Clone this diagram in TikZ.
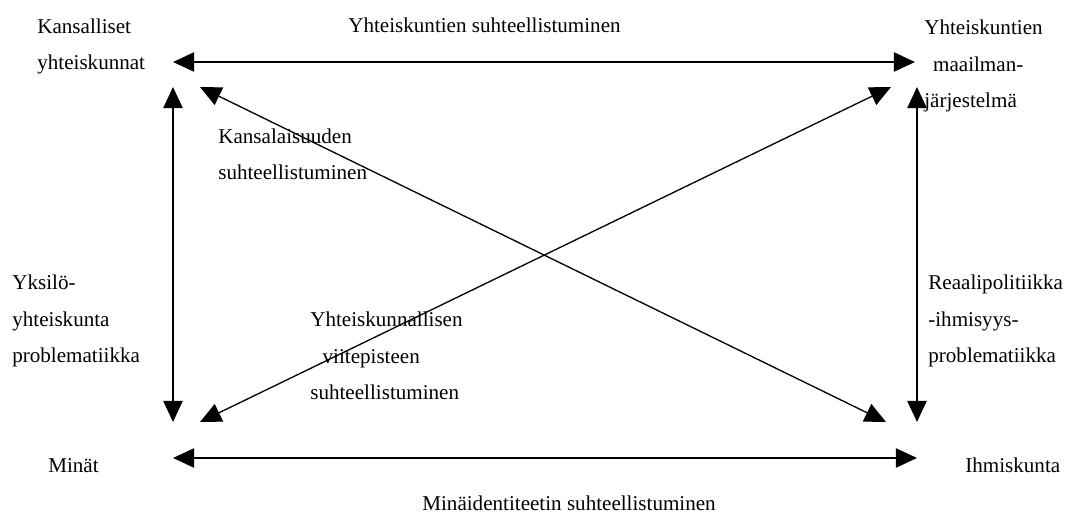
\documentclass[tikz,border=0pt]{standalone}
\usepackage{fontspec}
\setmainfont{Liberation Serif}
\usetikzlibrary{arrows.meta}

\begin{document}
\begin{tikzpicture}[x=0.02cm, y=-0.02cm,
    lbl/.style={anchor=base west, inner sep=0pt, align=left,
      font=\fontsize{12}{21}\selectfont},
    link/.style={{Triangle[length=12pt,width=11pt]}-{Triangle[length=12pt,width=11pt]}, line width=0.75pt}]
  \useasboundingbox (0,0) rectangle (1066,513);

  % Corners (base = last line)
  \node[lbl] (kansalliset) at (37,70) {Kansalliset\\yhteiskunnat};
  \node[lbl] (maailma) at (924,108) {Yhteiskuntien\\\hspace{5pt}maailman-\\järjestelmä};
  \node[lbl] (minat) at (48,473) {Minät};
  \node[lbl] (ihmiskunta) at (965,473) {Ihmiskunta};

  % Arrow ends
  \coordinate (tl) at (173,62);
  \coordinate (tr) at (915,62);
  \coordinate (bl) at (173,458);
  \coordinate (br) at (917,458);
  \coordinate (lt) at (173,87);
  \coordinate (lb) at (173,422);
  \coordinate (rt) at (917,87);
  \coordinate (rb) at (917,422);
  \coordinate (dtl) at (200,87);
  \coordinate (dbr) at (886,422);
  \coordinate (dbl) at (200,422);
  \coordinate (dtr) at (891,87);

  % Sides
  \draw[link] (tl) -- (tr);
  \draw[link] (bl) -- (br);
  \draw[link] (lt) -- (lb);
  \draw[link] (rt) -- (rb);

  % Diagonals
  \draw[link] (dtl) -- (dbr);
  \draw[link] (dbl) -- (dtr);

  % Labels
  \node[lbl] (yhteiskuntien) at (348,33) {Yhteiskuntien suhteellistuminen};
  \node[lbl] (minaidentiteetti) at (422,510) {Minäidentiteetin suhteellistuminen};
  \node[lbl] (kansalaisuus) at (218,180) {Kansalaisuuden\\suhteellistuminen};
  \node[lbl] (yksilo) at (12,363) {Yksilö-\\yhteiskunta\\problematiikka};
  \node[lbl] (reaalipolitiikka) at (928,363) {Reaalipolitiikka\\-ihmisyys-\\problematiikka};
  \node[lbl] (viitepiste) at (310,400) {Yhteiskunnallisen\\\hspace{7pt}viitepisteen\\suhteellistuminen};
\end{tikzpicture}
\end{document}
